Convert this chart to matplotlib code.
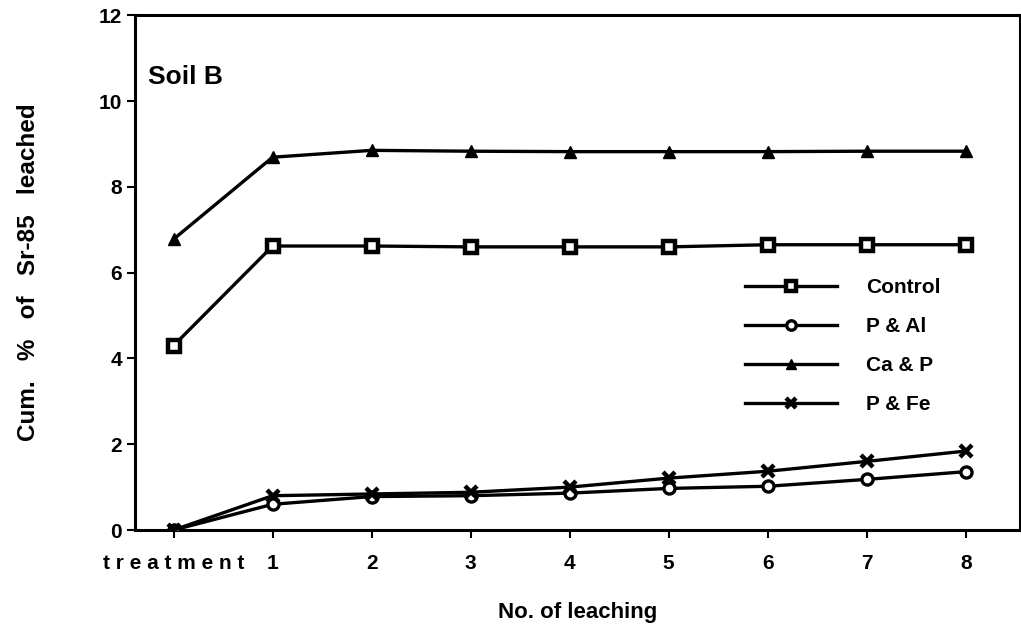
import matplotlib
matplotlib.use("Agg")
import matplotlib.pyplot as plt

categories = ["treatment", "1", "2", "3", "4", "5", "6", "7", "8"]
control = [4.30, 6.62, 6.62, 6.60, 6.60, 6.60, 6.65, 6.65, 6.65]
p_al = [0.0, 0.60, 0.78, 0.80, 0.86, 0.97, 1.02, 1.18, 1.36]
ca_p = [6.78, 8.69, 8.85, 8.83, 8.82, 8.82, 8.82, 8.83, 8.83]
p_fe = [0.0, 0.80, 0.84, 0.88, 1.00, 1.21, 1.37, 1.60, 1.84]
yticks = [0, 2, 4, 6, 8, 10, 12]

plt.rcParams['font.family'] = ['Liberation Sans', 'DejaVu Sans']
plt.rcParams['font.weight'] = 'bold'

fig = plt.figure(figsize=(10.21, 6.34), dpi=100)
ax = fig.add_axes([0.1322, 0.164, 0.867, 0.812])

x = list(range(len(categories)))
lw = 2.4
ax.plot(x, control, '-', color='black', lw=lw, marker='s', ms=8,
        mfc='white', mec='black', mew=3.2, label='Control', zorder=3)
ax.plot(x, p_al, '-', color='black', lw=lw, marker='o', ms=8,
        mfc='white', mec='black', mew=2.4, label='P & Al', zorder=3)
ax.plot(x, ca_p, '-', color='black', lw=lw, marker='^', ms=9,
        mfc='black', mec='black', label='Ca & P', zorder=3)
ax.plot(x, p_fe, '-', color='black', lw=lw, marker='x', ms=9,
        mec='black', mew=3.2, label='P & Fe', zorder=3)

ax.set_xlim(-0.39, 8.55)
ax.set_ylim(0, 12)
ax.set_yticks(yticks)
ax.set_yticklabels([str(v) for v in yticks], fontsize=15, fontweight='bold')
ax.set_xticks(x)
ax.set_xticklabels([])
for xi, lab in zip(x, categories):
    if lab == "treatment":
        ax.text(xi, -0.55, "t r e a t m e n t", ha='center', va='top',
                fontsize=15, fontweight='bold', transform=ax.transData)
    else:
        ax.text(xi, -0.55, lab, ha='center', va='top', fontsize=15,
                fontweight='bold', transform=ax.transData)
ax.tick_params(axis='both', direction='out', length=6, width=1.5)
for s in ax.spines.values():
    s.set_linewidth(2.2)

ax.set_xlabel("No. of leaching", fontsize=16, fontweight='bold', labelpad=42)
ax.set_ylabel("Cum.   %   of   Sr-85   leached", fontsize=17.5,
              fontweight='bold', labelpad=42)

ax.text(0.015, 0.88, "Soil B", transform=ax.transAxes, fontsize=19,
        fontweight='bold', ha='left', va='center')

leg = ax.legend(loc='upper left', bbox_to_anchor=(0.668, 0.525), frameon=False,
                handlelength=4.4, handletextpad=1.4, markerscale=0.85,
                labelspacing=0.95, prop={'weight': 'bold', 'size': 15})

fig.savefig("out.png", dpi=100)
